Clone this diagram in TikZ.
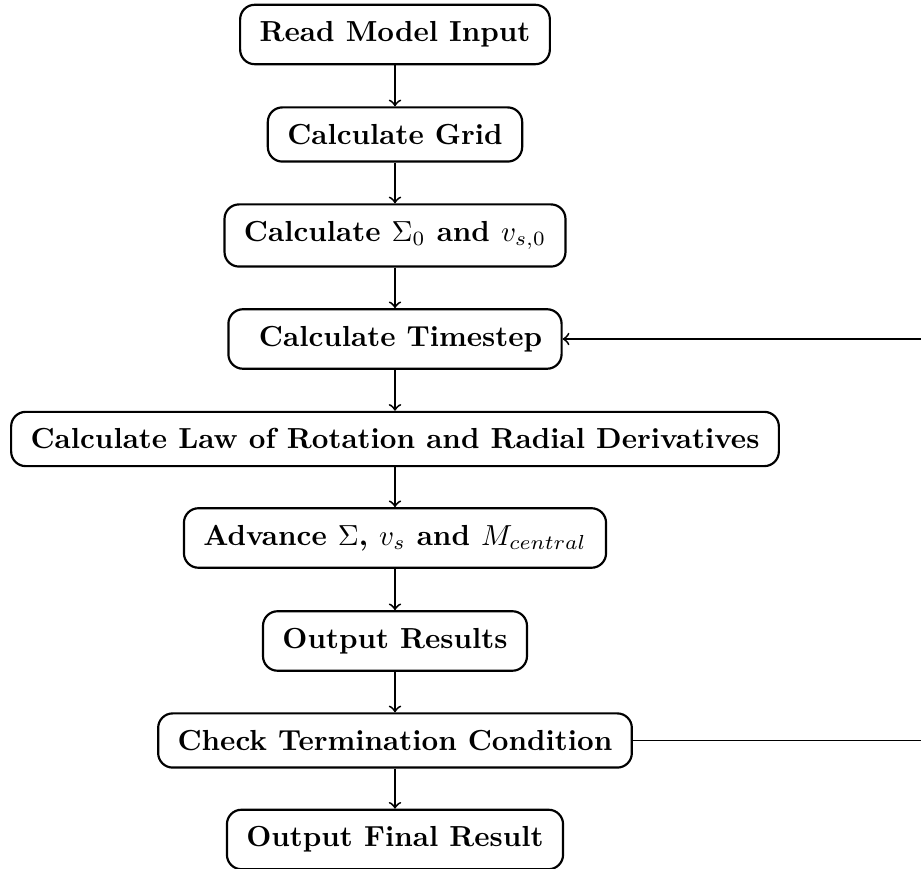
\documentclass[tikz,border=0pt]{standalone}
\usetikzlibrary{calc}
\begin{document}
\begin{tikzpicture}[x=0.3448pt,y=-0.3448pt,
  stepbox/.style={draw, line width=0.75pt, rounded corners=5pt, font=\bfseries,
    inner xsep=6.7pt, inner ysep=5.8pt, anchor=center},
  flow/.style={->, line width=0.65pt}]
\useasboundingbox (0,0) rectangle (921,869);
\node[stepbox] (read) at (395,34.5) {Read Model Input};
\node[stepbox] (grid) at (395,134.5) {Calculate Grid};
\node[stepbox] (init) at (395,235.5) {Calculate $\Sigma_0$ and $v_{s,0}$};
\node[stepbox] (ts) at (395,339) {\ Calculate Timestep};
\node[stepbox] (law) at (395,439) {Calculate Law of Rotation and Radial Derivatives};
\node[stepbox] (adv) at (395,538) {Advance $\Sigma$, $v_s$ and $M_{central}$};
\node[stepbox] (out) at (395,641) {Output Results};
\node[stepbox] (check) at (395,740.5) {Check Termination Condition};
\node[stepbox] (final) at (395,839.5) {Output Final Result};
\coordinate (rx) at (926,0);
\draw[flow] (read) -- (grid);
\draw[flow] (grid) -- (init);
\draw[flow] (init) -- (ts);
\draw[flow] (ts) -- (law);
\draw[flow] (law) -- (adv);
\draw[flow] (adv) -- (out);
\draw[flow] (out) -- (check);
\draw[flow] (check) -- (final);
\draw[flow] (check.east) -- (check.east -| rx) -- (ts.east -| rx) -- (ts.east);
\end{tikzpicture}
\end{document}
